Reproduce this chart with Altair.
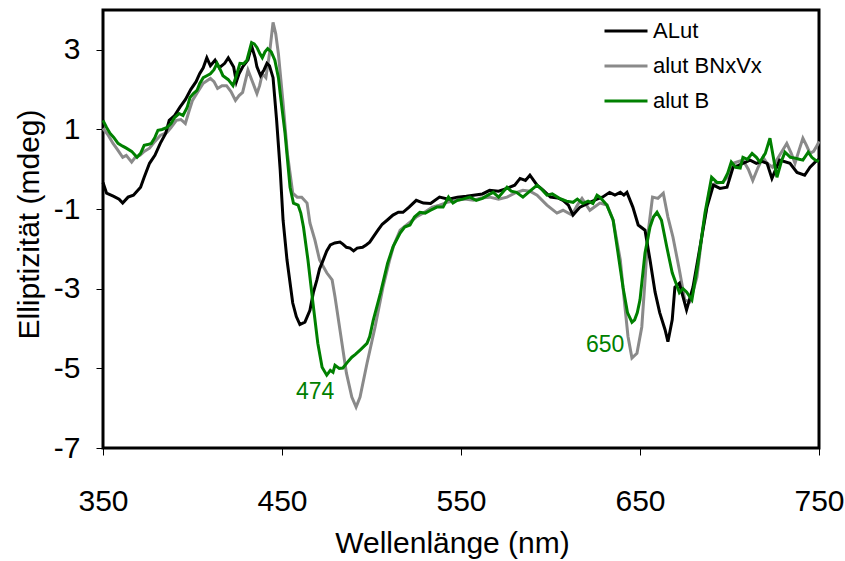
import altair as alt
import pandas as pd

# CD spectra: wavelength (nm) vs. ellipticity (mdeg)
SERIES = ["ALut", "alut BNxVx", "alut B"]
COLORS = ["#000000", "#8a8a8a", "#008000"]

alut_x = [350, 352, 356, 359, 361, 364, 367, 371, 373, 376, 379, 382, 385, 387, 390, 393, 396, 399,
          402, 404, 406, 408, 410, 412.6, 415, 418, 420, 423, 424.5, 426, 428, 431, 433, 435, 436, 438,
          440, 441.6, 443, 445, 447, 449, 450.6, 452.8, 456, 458, 460, 462.8, 465.6, 467.5, 469.5, 471,
          473, 475, 477, 479.5, 482.4, 484, 486, 488, 490, 492, 495, 497, 499, 501, 503.6, 506, 508.7,
          512, 515, 517.6, 521, 525, 529, 533, 538, 543, 548, 553, 557, 562, 566, 571, 575.7, 580, 583,
          586, 588.5, 592.5, 596, 600, 604, 607, 610, 612.6, 616.5, 622, 626, 629, 633, 636, 639, 641,
          642.7, 646, 649, 652.8, 655.6, 658.4, 661, 664, 665.6, 668, 669.5, 672, 674, 676, 679.6, 683.5,
          687.4, 691, 694.7, 698.6, 702, 705, 707.5, 711.5, 715, 718, 721, 723.7, 728, 733.8, 737.7, 742,
          745, 747.8, 750]
alut_y = [-0.33, -0.6, -0.68, -0.75, -0.85, -0.7, -0.65, -0.45, -0.2, 0.15, 0.35, 0.65, 0.9, 1.23, 1.35,
          1.56, 1.75, 2.0, 2.2, 2.4, 2.55, 2.8, 2.6, 2.74, 2.55, 2.66, 2.8, 2.57, 2.2, 2.4, 2.57, 2.75, 3.1,
          2.8, 2.57, 2.35, 2.5, 2.66, 2.6, 2.3, 1.23, -0.02, -1.28, -2.28, -3.36, -3.7, -3.9, -3.84, -3.54,
          -3.1, -2.78, -2.5, -2.28, -2.05, -1.9, -1.85, -1.83, -1.88, -1.96, -1.98, -2.05, -1.98, -1.96,
          -1.9, -1.83, -1.7, -1.53, -1.38, -1.28, -1.15, -1.08, -1.08, -0.95, -0.78, -0.85, -0.86, -0.7,
          -0.75, -0.7, -0.68, -0.65, -0.62, -0.53, -0.55, -0.48, -0.4, -0.23, -0.28, -0.15, -0.4, -0.53,
          -0.7, -0.72, -0.78, -0.9, -1.15, -0.95, -0.83, -0.75, -0.7, -0.58, -0.65, -0.58, -0.65, -0.58,
          -0.95, -1.4, -1.53, -2.28, -3.08, -3.6, -4.03, -4.33, -3.78, -2.96, -2.86, -3.2, -3.53, -2.96,
          -1.96, -0.95, -0.4, -0.48, -0.45, 0.05, 0.1, 0.15, 0.23, 0.15, 0.2, 0.15, -0.23, 0.23, 0.15,
          -0.08, -0.15, 0.05, 0.18, 0.25]

bnxvx_x = [350, 353, 355.6, 358, 361, 363, 366, 368, 370.7, 373, 376, 379, 382, 385.8, 388, 391, 393.5,
           396, 398, 400, 403, 406, 410, 412, 414, 416.5, 419, 421.5, 424, 426, 428, 431, 433.5, 436,
           437.5, 439, 441, 443, 445, 446.5, 448, 450.6, 453, 456, 458.5, 461, 464, 465.6, 468.4, 471, 475,
           478, 479.6, 482.4, 486, 489, 491.4, 493.6, 497.5, 502, 506.4, 510, 512.5, 516, 521.5, 525, 529,
           534, 538, 543, 548, 552, 557, 561, 566, 571, 575.7, 580, 584.6, 588.5, 592.5, 598, 603.6, 607,
           612, 615, 617.6, 622, 627.6, 631.6, 635, 639, 641.6, 643.3, 645.5, 648.3, 651, 652.8, 654.5,
           657, 660, 663, 665.6, 668.4, 672, 675, 678, 681.8, 685, 689, 692, 696, 699, 702, 707.5, 710.5,
           713, 716, 718.7, 721, 724, 728, 732, 734.5, 736.6, 739, 741, 743, 745, 747, 749, 750]
bnxvx_y = [1.03, 0.85, 0.65, 0.5, 0.3, 0.35, 0.18, 0.3, 0.35, 0.45, 0.53, 0.7, 0.85, 0.93, 1.05, 1.23,
           1.25, 1.15, 1.45, 1.73, 1.95, 2.16, 2.28, 2.2, 2.03, 2.1, 2.1, 1.95, 1.73, 1.85, 1.93, 2.49, 2.2,
           1.9, 2.1, 2.4, 2.3, 2.9, 3.69, 3.4, 2.9, 1.66, 0.4, -0.6, -0.7, -0.7, -0.85, -1.35, -1.78, -2.28,
           -2.6, -2.78, -3.2, -4.04, -5.12, -5.72, -5.97, -5.72, -4.87, -3.96, -2.96, -2.3, -1.9, -1.53,
           -1.33, -1.2, -1.1, -0.95, -0.9, -0.82, -0.78, -0.75, -0.78, -0.72, -0.7, -0.75, -0.7, -0.6,
           -0.53, -0.55, -0.65, -0.9, -1.1, -1.03, -1.15, -0.9, -0.73, -1.03, -0.85, -0.9, -1.28, -2.28,
           -3.46, -4.2, -4.74, -4.62, -3.96, -2.79, -1.6, -0.7, -0.73, -0.6, -1.2, -1.7, -2.53, -3.28,
           -3.33, -2.71, -1.53, -0.5, -0.35, -0.33, -0.2, 0.15, 0.23, 0.0, -0.28, 0.05, 0.3, 0.15, 0.05,
           0.35, 0.65, 0.4, 0.15, 0.5, 0.78, 0.6, 0.4, 0.45, 0.6, 0.7]

b_x = [350, 352, 354, 356, 358.4, 361, 363, 366, 369, 371, 373, 375, 377, 379, 380.7, 383, 385.8, 388,
       390, 392.5, 394.7, 397, 398.6, 400.5, 402.5, 404, 406, 408, 410, 412, 413.7, 415.5, 417, 420,
       422.6, 424.5, 426.5, 428.5, 430.4, 433, 434.5, 436, 437.7, 439, 440.5, 442, 444, 446, 448, 449,
       451.7, 454.5, 456.4, 459, 460.5, 462, 464.5, 467.3, 470, 472.4, 475, 477, 478.5, 479.6, 482, 484,
       486.5, 489, 491, 493.6, 497.5, 499, 501, 503, 505, 509, 512, 516, 518.5, 521.5, 524, 527, 530,
       533, 536.5, 540, 543, 545.5, 548, 551, 555, 558.5, 562, 565, 568, 571, 575.7, 578, 581, 584.6,
       588.5, 592.5, 595, 598, 601, 605, 609, 612.6, 615, 618, 621, 623.7, 626, 627.6, 631.5, 635,
       637.7, 640.5, 643, 645.5, 647, 648.5, 650, 652.8, 655.6, 657.5, 659.5, 662, 665, 668, 670, 672,
       674, 676, 679, 682.4, 686.3, 690, 693, 696.4, 699, 701, 703.5, 706, 707.5, 710, 712.6, 715, 717,
       720, 722.6, 724.5, 726.5, 729, 731, 734, 736.6, 739, 741, 744, 746, 748, 750]
b_y = [1.23, 1.05, 0.9, 0.8, 0.65, 0.58, 0.53, 0.45, 0.3, 0.4, 0.6, 0.62, 0.65, 0.8, 0.98, 1.0, 1.05,
       1.15, 1.3, 1.4, 1.35, 1.55, 1.8, 1.9, 1.98, 2.15, 2.3, 2.35, 2.4, 2.5, 2.66, 2.5, 2.35, 2.25, 2.1,
       2.35, 2.66, 2.65, 2.74, 3.18, 3.15, 3.06, 2.9, 2.8, 2.95, 3.03, 2.95, 2.74, 2.3, 1.9, 0.9, -0.45,
       -0.85, -0.9, -1.1, -1.45, -2.28, -3.36, -4.37, -4.97, -5.17, -5.05, -5.1, -4.92, -5.0, -4.99,
       -4.85, -4.72, -4.65, -4.54, -4.37, -4.2, -3.79, -3.45, -3.11, -2.36, -1.95, -1.6, -1.45, -1.4,
       -1.2, -1.08, -1.1, -1.03, -0.95, -0.95, -0.7, -0.85, -0.78, -0.75, -0.7, -0.78, -0.73, -0.65,
       -0.58, -0.7, -0.45, -0.55, -0.58, -0.7, -0.55, -0.4, -0.5, -0.65, -0.62, -0.73, -0.8, -0.83,
       -0.75, -0.86, -0.8, -0.86, -0.65, -0.7, -0.9, -1.28, -2.1, -2.96, -3.6, -3.84, -3.78, -3.6, -3.28,
       -2.1, -1.45, -1.2, -1.08, -1.28, -1.96, -2.6, -2.85, -3.1, -3.0, -3.08, -3.28, -2.36, -1.1, -0.2,
       -0.33, -0.33, -0.1, 0.18, 0.05, 0.03, 0.3, 0.25, 0.4, 0.3, 0.18, 0.4, 0.78, 0.3, -0.2, 0.2, 0.43,
       0.3, 0.28, 0.25, 0.23, 0.43, 0.3, 0.23, 0.2]

# Peak annotations (wavelength label, position in data units)
peak_labels = ["474", "650"]
peak_x = [468.5, 630.5]
peak_y = [-5.6, -4.42]

FONT = "Liberation Sans"

frames = []
for name, xs, ys in [(SERIES[0], alut_x, alut_y), (SERIES[1], bnxvx_x, bnxvx_y), (SERIES[2], b_x, b_y)]:
    frames.append(pd.DataFrame({"wl": xs, "ell": ys, "probe": name, "idx": range(len(xs))}))
spectra = pd.concat(frames, ignore_index=True)
peaks = pd.DataFrame({"label": peak_labels, "wl": peak_x, "ell": peak_y})

x_enc = alt.X("wl:Q", scale=alt.Scale(domain=[350, 750], nice=False, zero=False),
              axis=alt.Axis(values=[350, 450, 550, 650, 750], title="Wellenlänge (nm)",
                            labelFlush=False, labelOverlap=False, labelBound=False,
                            titleX=349, titlePadding=12, labelPadding=31))
# plain hyphen for negative tick labels
y_enc = alt.Y("ell:Q", scale=alt.Scale(domain=[-7, 4], nice=False, zero=False),
              axis=alt.Axis(values=[-7, -5, -3, -1, 1, 3], title="Elliptizität (mdeg)",
                            labelExpr="'' + datum.value", labelOverlap=False,
                            titleY=214, titlePadding=9, labelPadding=16))
color_enc = alt.Color("probe:N", scale=alt.Scale(domain=SERIES, range=COLORS),
                      legend=alt.Legend(title=None, orient="none", legendX=500, legendY=-2,
                                        symbolType="stroke", symbolSize=1849, symbolStrokeWidth=3,
                                        labelFontSize=22, labelFont=FONT, labelColor="black",
                                        labelOffset=4, rowPadding=1, padding=0))

def curve(name):
    return alt.Chart(spectra).transform_filter(alt.datum.probe == name).mark_line(
        strokeWidth=3, interpolate="linear"
    ).encode(x=x_enc, y=y_enc, color=color_enc, order="idx:Q")

# gray below black, green on top
lines = curve(SERIES[1]) + curve(SERIES[0]) + curve(SERIES[2])

labels = alt.Chart(peaks).mark_text(font=FONT, fontSize=23, color="#008000",
                                    align="center", baseline="middle").encode(
    x="wl:Q", y="ell:Q", text="label:N")

chart = (lines + labels).properties(
    width=716, height=438,
    background="white",
    autosize=alt.AutoSizeParams(type="none"),
    padding={"left": 103, "top": 10, "right": 26, "bottom": 113},
).configure_view(
    stroke="black", strokeWidth=3
).configure_axis(
    domain=False, grid=False, ticks=True, tickSize=7, tickWidth=1, tickColor="black",
    labelFont=FONT, labelFontSize=30, labelColor="black",
    titleFont=FONT, titleFontSize=30, titleFontWeight="normal", titleColor="black",
)

chart.save("out.html", embed_options={"renderer": "svg", "actions": False})
